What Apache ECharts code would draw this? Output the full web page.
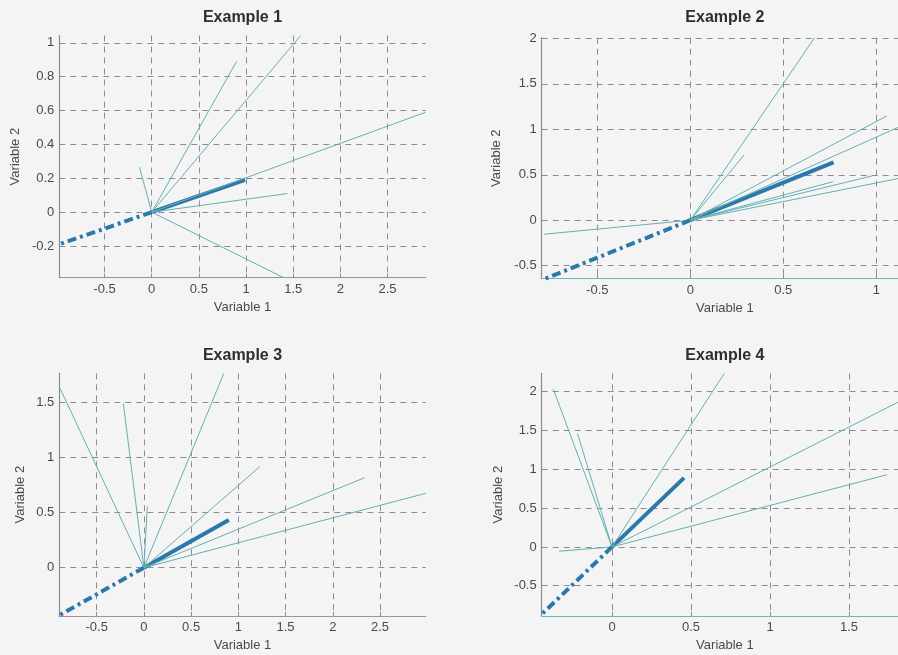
<!DOCTYPE html>
<html>
<head>
<meta charset="utf-8">
<script src="https://cdn.jsdelivr.net/npm/echarts@6/dist/echarts.min.js"></script>
<style>
html,body{margin:0;padding:0;background:#f4f4f4;}
#c{width:898px;height:655px;}
</style>
</head>
<body>
<div id="c"></div>
<script>
// ---- data ----
const titles = ['Example 1', 'Example 2', 'Example 3', 'Example 4'];
const xLabel = 'Variable 1';
const yLabel = 'Variable 2';

// axis limits [min, max]
const p1X = [-0.98, 2.905], p1Y = [-0.387, 1.043];
const p2X = [-0.799, 1.171], p2Y = [-0.643, 2.007];
const p3X = [-0.896, 2.984], p3Y = [-0.439, 1.767];
const p4X = [-0.445, 1.874], p4Y = [-0.89, 2.237];

// tick steps [x, y]
const p1Step = [0.5, 0.2];
const p2Step = [0.5, 0.5];
const p3Step = [0.5, 0.5];
const p4Step = [0.5, 0.5];

// vector end points (all vectors start at the origin)
const p1Thin = [[0.90, 0.89], [1.58, 1.043], [2.905, 0.59], [1.44, 0.11], [-0.13, 0.265], [1.40, -0.387]];
const p1Main = [0.99, 0.19];
const p1Back = [-0.98, -0.19];

const p2Thin = [[0.668, 2.007], [0.289, 0.717], [1.056, 1.146], [1.171, 1.07], [0.766, 0.423], [0.975, 0.486], [1.171, 0.48], [-0.787, -0.154]];
const p2Main = [0.77, 0.636];
const p2Back = [-0.78, -0.643];

const p3Thin = [[-0.888, 1.63], [-0.218, 1.494], [0.846, 1.767], [1.226, 0.918], [2.336, 0.818], [2.984, 0.676], [0.036, 0.555]];
const p3Main = [0.899, 0.434];
const p3Back = [-0.896, -0.433];

const p4Thin = [[-0.371, 2.03], [-0.218, 1.46], [0.711, 2.237], [1.874, 1.93], [1.74, 0.93], [-0.335, -0.055]];
const p4Main = [0.456, 0.889];
const p4Back = [-0.445, -0.868];

// ---- layout / style ----
const FONT = '"Liberation Sans", Arial, sans-serif';
const grids = [
  {left: 59.3, top: 35.5, width: 366.4, height: 242.2},
  {left: 541.7, top: 37.7, width: 366.4, height: 241},
  {left: 59.3, top: 373.3, width: 366.4, height: 242.7},
  {left: 541.7, top: 373.3, width: 366.4, height: 242.7}
];
const panels = [
  {x: p1X, y: p1Y, step: p1Step, thin: p1Thin, main: p1Main, back: p1Back, yGap: 37, xLine: '#9c8e9a'},
  {x: p2X, y: p2Y, step: p2Step, thin: p2Thin, main: p2Main, back: p2Back, yGap: 39, xLine: '#66b9bb'},
  {x: p3X, y: p3Y, step: p3Step, thin: p3Thin, main: p3Main, back: p3Back, yGap: 32, xLine: '#ae8c9a'},
  {x: p4X, y: p4Y, step: p4Step, thin: p4Thin, main: p4Main, back: p4Back, yGap: 37, xLine: '#66b9bb'}
];
const THIN = '#63b0b3';
const THICK = '#2b79aa';
const GRIDC = '#908a96';
const LABELC = '#4a4a4a';

const option = {
  backgroundColor: '#f4f4f4',
  animation: false,
  title: [], grid: [], xAxis: [], yAxis: [], series: []
};

panels.forEach((p, i) => {
  const g = grids[i];
  option.grid.push(Object.assign({outerBoundsMode: 'none', containLabel: false}, g));
  option.title.push({
    text: titles[i], left: g.left + g.width / 2, top: i < 2 ? 10 : 348, textAlign: 'center', padding: 0,
    textStyle: {fontFamily: FONT, fontWeight: 'bold', fontSize: 16, color: '#2e2e2e'}
  });
  const common = (axisColor) => ({
    type: 'value', gridIndex: i,
    axisLine: {show: true, onZero: false, lineStyle: {color: axisColor, width: 1.2}},
    axisTick: {show: true, inside: true, length: 4, lineStyle: {color: '#8a8a92'}},
    axisLabel: {showMinLabel: false, showMaxLabel: false, fontFamily: FONT, fontSize: 13, color: LABELC, margin: 5},
    splitLine: {show: true, showMinLine: false, showMaxLine: false, lineStyle: {type: [6, 5], color: GRIDC, width: 1}},
    nameLocation: 'middle',
    nameTextStyle: {fontFamily: FONT, fontSize: 13, color: LABELC}
  });
  option.xAxis.push(Object.assign(common(p.xLine), {
    min: p.x[0], max: p.x[1], minInterval: p.step[0], maxInterval: p.step[0],
    name: xLabel, nameGap: 23
  }));
  option.yAxis.push(Object.assign(common('#8a8a92'), {
    min: p.y[0], max: p.y[1], minInterval: p.step[1], maxInterval: p.step[1],
    name: yLabel, nameGap: p.yGap
  }));
  const base = {type: 'line', xAxisIndex: i, yAxisIndex: i, symbol: 'none', silent: true, clip: true};
  option.series.push(Object.assign({}, base, {
    data: [[0, 0], p.main], lineStyle: {color: THICK, width: 4, cap: 'butt'}
  }));
  p.thin.forEach(pt => {
    option.series.push(Object.assign({}, base, {
      data: [[0, 0], pt], lineStyle: {color: THIN, width: 1}
    }));
  });
  option.series.push(Object.assign({}, base, {
    data: [[0, 0], p.back], lineStyle: {color: THICK, width: 4, type: [9, 4, 3, 4], cap: 'butt'}
  }));
});

const chart = echarts.init(document.getElementById('c'), null, {renderer: 'canvas'});
chart.setOption(option);
</script>
</body>
</html>
